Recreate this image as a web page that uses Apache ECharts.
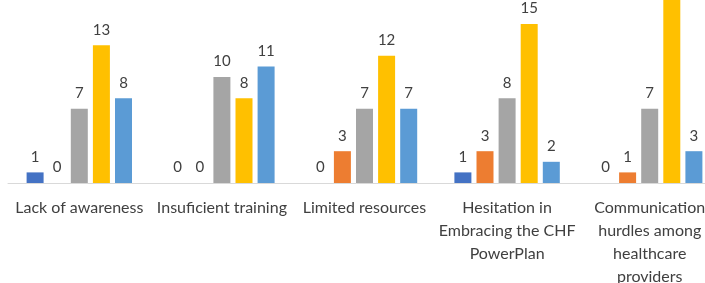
<!DOCTYPE html>
<html>
<head>
<meta charset="utf-8">
<script src="https://cdn.jsdelivr.net/npm/echarts@6/dist/echarts.min.js"></script>
<style>
  html, body { margin: 0; padding: 0; background: #fff; }
  #chart { width: 705px; height: 283px; }
</style>
</head>
<body>
<div id="chart"></div>
<script>
// categories along the x axis
const categories = [
  "Lack of awareness",
  "Insuficient training",
  "Limited resources",
  "Hesitation in\nEmbracing the CHF\nPowerPlan",
  "Communication\nhurdles among\nhealthcare\nproviders",
];
// five response groups (legend is cropped off in the reference)
const seriesNames = ["Series 1", "Series 2", "Series 3", "Series 4", "Series 5"];
const series1 = [1, 0, 0, 1, 0];
const series2 = [0, 0, 3, 3, 1];
const series3 = [7, 10, 7, 8, 7];
const series4 = [13, 8, 12, 15, 19];
const series5 = [8, 11, 7, 2, 3];

const colors = ["#4472C4", "#ED7D31", "#A5A5A5", "#FFC000", "#5B9BD5"];
const fontFam = "Lato, 'Open Sans', sans-serif";

let myChart = echarts.init(document.getElementById("chart"));

const values = [series1, series2, series3, series4, series5];

myChart.setOption({
  animation: false,
  color: colors,
  grid: {
    left: 8,
    right: -16,
    top: -29,
    bottom: 100,
    outerBoundsMode: "none",
    containLabel: false,
  },
  xAxis: {
    type: "category",
    data: categories,
    axisTick: { show: false },
    axisLine: { lineStyle: { color: "#D9D9D9", width: 1 } },
    axisLabel: {
      interval: 0,
      margin: 13,
      color: "#404040",
      fontSize: 16,
      fontFamily: fontFam,
      lineHeight: 23,
    },
  },
  yAxis: {
    type: "value",
    min: 0,
    max: 20,
    show: false,
    splitLine: { show: false },
  },
  series: values.map((d, i) => ({
    name: seriesNames[i],
    type: "bar",
    barWidth: 17,
    barGap: "30%",
    data: d,
    label: {
      show: true,
      position: "top",
      distance: 8,
      color: "#404040",
      fontSize: 15,
      fontFamily: fontFam,
    },
  })),
});
</script>
</body>
</html>
